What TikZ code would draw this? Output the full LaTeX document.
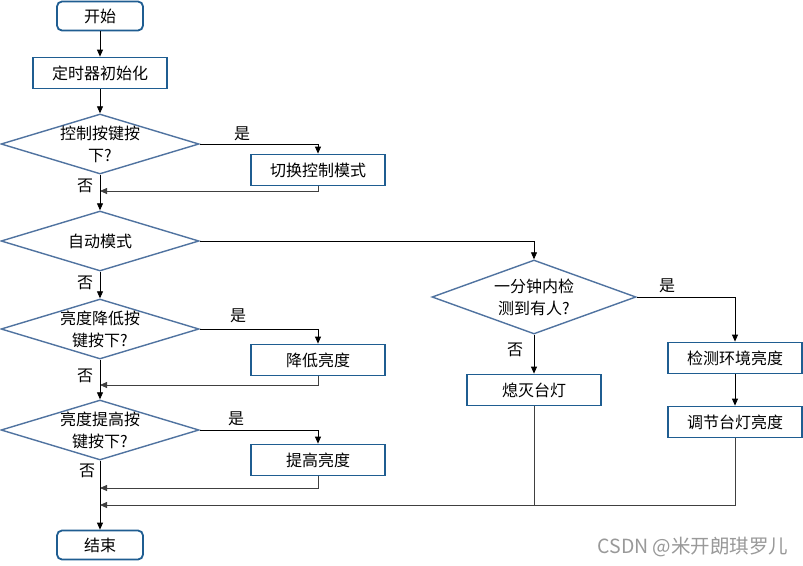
\documentclass[tikz,border=0pt]{standalone}
\usepackage{fontspec}
\setmainfont{Noto Sans CJK SC}
\usetikzlibrary{shapes.geometric,arrows.meta}
\definecolor{boxblue}{RGB}{31,93,145}
\definecolor{diablue}{RGB}{80,115,160}
\begin{document}
\begin{tikzpicture}[x=1pt,y=-1pt,
  txt/.style={font=\fontsize{16}{22}\selectfont},
  procbox/.style={draw=boxblue,line width=1.8pt,minimum width=134pt,minimum height=31pt,inner sep=0pt,txt},
  termbox/.style={procbox,rounded corners=5pt,minimum width=86pt,minimum height=29pt},
  decbox/.style={diamond,draw=diablue,line width=1.4pt,minimum width=198pt,minimum height=60pt,inner sep=0pt},
  dtext/.style={txt,align=center,inner sep=0pt},
  lbl/.style={txt,inner sep=0pt},
  flow/.style={draw=black,line width=0.8pt,-{Triangle[length=7pt,width=6pt]}},
  flowback/.style={flow,draw=black!75},
  plain/.style={draw=black!75,line width=0.8pt}
]
\useasboundingbox (0,0) rectangle (803,565);
\fill[white] (0,0) rectangle (803,565);

\node[termbox] (start) at (100,16) {开始};
\node[procbox] (init) at (100,73) {定时器初始化};
\node[decbox] (d1) at (100,144) {};
\node[dtext] (d1t) at (d1) {控制按键按\\下?};
\node[procbox] (sw) at (318,170) {切换控制模式};
\node[decbox] (d2) at (100,241) {};
\node[dtext] (d2t) at (d2) {自动模式};
\node[decbox] (d3) at (100,329) {};
\node[dtext] (d3t) at (d3) {亮度降低按\\键按下?};
\node[procbox] (dec) at (318,360) {降低亮度};
\node[decbox] (d4) at (100,430) {};
\node[dtext] (d4t) at (d4) {亮度提高按\\键按下?};
\node[procbox] (inc) at (318,460) {提高亮度};
\node[termbox] (end) at (100,545) {结束};
\node[decbox,minimum width=204pt,minimum height=74pt] (d5) at (534,297) {};
\node[dtext] (d5t) at (d5) {一分钟内检\\测到有人?};
\node[procbox] (off) at (534,390) {熄灭台灯};
\node[procbox] (det) at (735,358) {检测环境亮度};
\node[procbox] (adj) at (735,422) {调节台灯亮度};

\coordinate (j1) at (100,191);
\coordinate (j2) at (100,385);
\coordinate (j3) at (100,488);
\coordinate (j5) at (100,505);

\draw[flow] (start) -- (init);
\draw[flow] (init) -- (d1);
\draw[flow] (d1.east) -| (sw.north);
\draw[flowback] (sw.south) |- (j1);
\draw[flow] (d1) -- (d2);
\draw[flow] (d2.east) -| (d5.north);
\draw[flow] (d2) -- (d3);
\draw[flow] (d3.east) -| (dec.north);
\draw[flowback] (dec.south) |- (j2);
\draw[flow] (d3) -- (d4);
\draw[flow] (d4.east) -| (inc.north);
\draw[flowback] (inc.south) |- (j3);
\draw[flow] (d4) -- (end);
\draw[flow] (d5.east) -| (det.north);
\draw[flow] (d5) -- (off);
\draw[flow] (det) -- (adj);
\draw[plain] (off.south) -- (off.south |- j5);
\draw[flowback] (adj.south) |- (j5);

\node[lbl] (y1) at (242,134) {是};
\node[lbl] (y3) at (238,316) {是};
\node[lbl] (y4) at (236,419) {是};
\node[lbl] (y5) at (667,286) {是};
\node[lbl] (n1) at (85,186) {否};
\node[lbl] (n2) at (85,283) {否};
\node[lbl] (n3) at (85,376) {否};
\node[lbl] (n4) at (87,471) {否};
\node[lbl] (n5) at (515,350) {否};

\node[font=\fontsize{19.5}{19.5}\selectfont,text=black!40] (wm) at (693,547) {CSDN @米开朗琪罗儿};
\end{tikzpicture}
\end{document}
